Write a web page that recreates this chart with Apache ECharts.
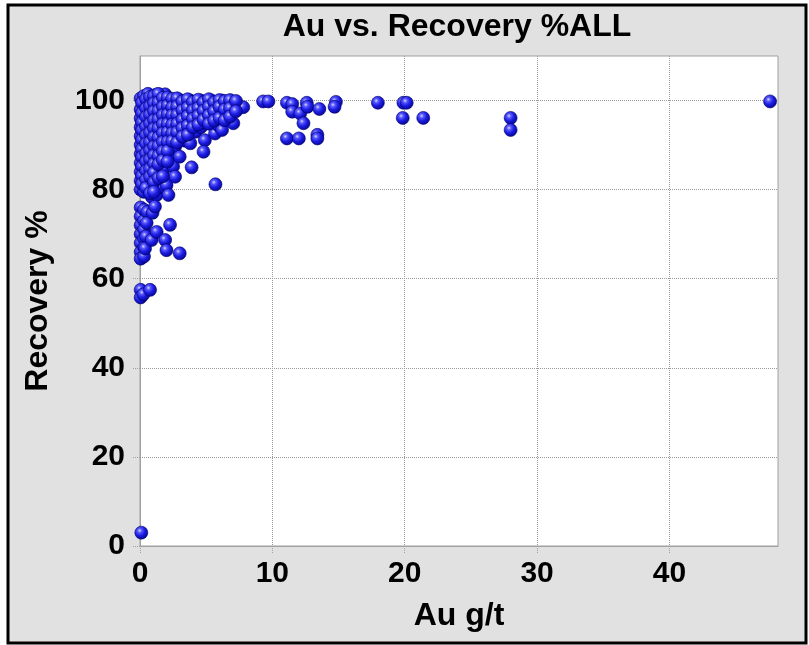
<!DOCTYPE html>
<html>
<head>
<meta charset="utf-8">
<script src="https://cdn.jsdelivr.net/npm/echarts@6/dist/echarts.min.js"></script>
<style>
html,body{margin:0;padding:0;background:#fff;}
#chart{width:809px;height:645px;}
</style>
</head>
<body>
<div id="chart"></div>
<script>
// ---- data: [Au g/t, Recovery %] ----
const lowGradeColumn = [
  [0.05,100.5],[0.05,98],[0.05,96],[0.05,94],[0.05,92],[0.05,90],[0.05,88],[0.05,86],[0.05,84],[0.05,82],[0.05,80],
  [0.05,76],[0.05,74],[0.05,72],[0.05,70],[0.05,68],[0.05,66],[0.05,64.5],[0.05,57.5],[0.05,55.8],[0.1,3],
  [0.3,101],[0.3,99],[0.3,97],[0.3,95],[0.3,93],[0.3,91],[0.3,89],[0.3,87],[0.3,85],[0.3,83],[0.3,81],[0.3,79.5],
  [0.3,75.5],[0.3,73],[0.3,71],[0.3,69],[0.3,67],[0.3,65],[0.25,56.5],
  [0.6,101.5],[0.6,99.5],[0.6,97.5],[0.6,95.5],[0.6,93.5],[0.6,91.5],[0.6,89.5],[0.6,87.5],[0.6,85.5],[0.6,83.5],
  [0.6,81.5],[0.55,75],[0.5,72.5],[0.45,69.5],[0.38,66.8],[0.76,57.5]
];
const mainCluster = [
  [0.9,100.2],[0.92,98.1],[0.88,96.3],[0.9,94.2],[0.93,92.1],[0.9,90.4],[0.87,88.2],[0.9,86.1],[0.92,84.3],[0.9,82.4],[0.88,80.2],[0.9,78.3],[0.95,74.8],[0.88,68.7],
  [1.2,101.3],[1.22,99.2],[1.18,97.1],[1.2,95.3],[1.24,93.2],[1.2,91.1],[1.17,89.3],[1.2,87.2],[1.23,85.1],[1.2,83.2],[1.18,81.1],[1.26,78.8],[1.13,76.2],[1.26,70.5],
  [1.55,100.1],[1.52,98.2],[1.57,96.1],[1.55,94.3],[1.5,92.2],[1.56,90.1],[1.53,88.3],[1.58,86.2],[1.52,83.9],[1.6,80.6],
  [1.9,101.4],[1.88,99.1],[1.92,97.2],[1.9,95.1],[1.86,93.1],[1.93,91.2],[1.9,89.1],[1.87,86.9],[1.76,84.4],[2.0,81.0],[1.9,68.7],[2.0,66.4],
  [2.25,100.0],[2.28,98.1],[2.22,96.2],[2.26,94.1],[2.3,92.3],[2.24,90.2],[2.4,88.1],[2.5,85.2],[2.15,78.8],[2.27,72.1],
  [2.6,99.6],[2.63,97.4],[2.58,95.5],[2.62,93.4],[2.6,91.6],[2.65,89.6],[2.65,82.9],
  [3.0,100.1],[3.02,98.0],[2.98,96.1],[3.03,94.0],[3.0,92.1],[3.0,87.4],[3.0,65.7],
  [3.4,99.2],[3.38,97.1],[3.42,95.0],[3.4,93.1],[3.36,91.0],
  [3.8,100.0],[3.82,98.1],[3.78,96.0],[3.8,93.9],[3.8,90.4],[3.9,85.0],
  [4.2,99.1],[4.22,97.0],[4.18,95.2],[4.2,93.0],
  [4.6,100.0],[4.62,98.0],[4.58,96.1],[4.6,94.0],[4.9,91.1],[4.8,88.5],
  [5.0,99.2],[5.02,97.1],[5.0,95.0],
  [5.4,100.0],[5.42,98.1],[5.38,96.0],[5.67,92.6],[5.7,81.2],
  [5.8,99.1],[5.82,97.0],[5.9,94.5],
  [6.2,100.0],[6.22,98.1],[6.2,93.4],
  [6.6,99.2],[6.62,97.2],
  [7.05,99.7],[7.05,94.9],
  [7.4,98.8],[7.8,98.5]
];
const clusterFill = [
  [0.15,99.5],[0.15,97.2],[0.15,95.1],[0.15,93.3],[0.15,91.2],[0.15,89.1],[0.15,87.3],[0.15,85.2],[0.15,83.1],[0.15,81.3],
  [0.45,100.3],[0.45,98.2],[0.45,96.3],[0.45,94.1],[0.45,92.2],[0.45,90.3],[0.45,88.1],[0.45,86.3],[0.45,84.2],[0.45,82.2],[0.45,80.4],
  [0.75,100.8],[0.75,98.7],[0.75,96.8],[0.75,94.8],[0.75,92.8],[0.75,90.7],[0.75,88.8],[0.75,86.8],[0.75,84.7],[0.75,82.9],[0.75,79.2],
  [1.05,101.0],[1.05,99.4],[1.05,97.6],[1.05,95.6],[1.05,93.7],[1.05,91.8],[1.05,89.7],[1.05,87.7],[1.05,85.8],[1.05,83.8],[1.05,81.7],[1.05,79.5],
  [1.38,101.5],[1.38,99.6],[1.38,97.7],[1.38,95.8],[1.38,93.8],[1.38,91.7],[1.38,89.8],[1.38,87.6],[1.38,85.7],[1.38,82.6],
  [1.72,100.6],[1.72,98.6],[1.72,96.7],[1.72,94.7],[1.72,92.7],[1.72,90.7],[1.72,88.6],[1.72,86.6],[1.72,83.0],
  [2.08,100.7],[2.08,98.9],[2.08,96.9],[2.08,94.8],[2.08,92.9],[2.08,90.8],[2.08,88.7],[2.08,86.3],
  [2.43,100.4],[2.43,98.5],[2.43,96.7],[2.43,94.6],[2.43,92.7],[2.43,90.9],
  [2.8,100.5],[2.8,98.7],[2.8,96.8],[2.8,94.8],[2.8,92.9],[2.8,90.6],
  [3.2,99.8],[3.2,97.8],[3.2,95.7],[3.2,93.8],[3.2,91.9],
  [3.6,100.3],[3.6,98.4],[3.6,96.5],[3.6,94.4],[3.6,92.3],
  [4.0,99.7],[4.0,97.8],[4.0,95.9],[4.0,94.0],
  [4.4,100.2],[4.4,98.3],[4.4,96.6],[4.4,94.6],
  [4.8,99.6],[4.8,97.7],[4.8,95.7],
  [5.2,100.3],[5.2,98.6],[5.2,96.7],[5.2,94.8],
  [5.6,99.6],[5.6,97.6],[5.6,95.5],
  [6.0,100.1],[6.0,98.6],[6.0,96.1],
  [6.4,99.9],[6.4,98.0],[6.4,95.6],
  [6.8,100.1],[6.8,98.3],[6.8,96.4],
  [7.25,99.9],[7.25,97.6]
];
const highGradeOutliers = [
  [9.3,99.8],[9.7,99.8],[11.1,99.5],[11.5,99.2],[11.5,97.5],[12.1,97.1],[12.6,99.5],[12.65,98.6],
  [13.55,98.1],[14.8,99.7],[14.7,98.6],[12.35,94.9],[11.1,91.5],[12.0,91.5],[13.4,92.3],[13.4,91.5],
  [17.97,99.5],[19.9,99.5],[20.15,99.5],[19.85,96.1],[21.4,96.1],[28.0,96.1],[28.0,93.4],[47.6,99.8]
];
const xTicks = [0, 10, 20, 30, 40];
const yTicks = [0, 20, 40, 60, 80, 100];

const allPoints = lowGradeColumn.concat(mainCluster, clusterFill, highGradeOutliers);
const FONT = '"Liberation Sans", Arial, sans-serif';

const sphere = {
  type: 'radial', x: 0.38, y: 0.35, r: 0.68,
  colorStops: [
    { offset: 0, color: '#d8d8ff' },
    { offset: 0.22, color: '#5a5aff' },
    { offset: 0.55, color: '#1c1ce0' },
    { offset: 0.9, color: '#0a0aa8' },
    { offset: 1, color: '#000070' }
  ]
};

const chart = echarts.init(document.getElementById('chart'), null, { renderer: 'canvas' });
chart.setOption({
  backgroundColor: '#ffffff',
  animation: false,
  graphic: [{
    type: 'rect', z: -100, silent: true,
    shape: { x: 8, y: 5, width: 798, height: 638 },
    style: { fill: '#e1e1e1', stroke: '#000', lineWidth: 3 }
  }],
  title: {
    text: 'Au vs. Recovery %ALL',
    left: 457, top: 11, textAlign: 'center', padding: 0,
    textStyle: { fontFamily: FONT, fontSize: 32, fontWeight: 'bold', color: '#000' }
  },
  grid: {
    left: 140, top: 56, right: 31, bottom: 99,
    show: true, backgroundColor: '#ffffff', borderColor: '#a0a0a0', borderWidth: 1
  },
  xAxis: {
    type: 'value', min: 0, max: 48.2, interval: 10,
    name: 'Au g/t', nameLocation: 'middle', nameGap: 54,
    nameTextStyle: { fontFamily: FONT, fontSize: 32, fontWeight: 'bold', color: '#000' },
    axisLine: { show: true, lineStyle: { color: '#a0a0a0', width: 1 } },
    axisTick: { show: true, length: 7, customValues: xTicks, lineStyle: { color: '#a0a0a0', type: 'dotted' } },
    axisLabel: {
      margin: 13, fontFamily: FONT, fontSize: 30, fontWeight: 'bold', color: '#000',
      customValues: xTicks,
      formatter: v => (xTicks.indexOf(v) >= 0 ? String(v) : '')
    },
    splitLine: { show: true, lineStyle: { color: '#9a9a9a', type: 'dotted', width: 1 } }
  },
  yAxis: {
    type: 'value', min: 0, max: 110, interval: 20,
    name: 'Recovery %', nameLocation: 'middle', nameRotate: 90, nameGap: 86,
    nameTextStyle: { fontFamily: FONT, fontSize: 32, fontWeight: 'bold', color: '#000' },
    axisLine: { show: true, lineStyle: { color: '#a0a0a0', width: 1 } },
    axisTick: { show: true, length: 7, customValues: yTicks, lineStyle: { color: '#a0a0a0', type: 'dotted' } },
    axisLabel: {
      margin: 15, fontFamily: FONT, fontSize: 30, fontWeight: 'bold', color: '#000',
      customValues: yTicks,
      formatter: v => (yTicks.indexOf(v) >= 0 ? String(v) : '')
    },
    splitLine: { show: true, lineStyle: { color: '#9a9a9a', type: 'dotted', width: 1 } }
  },
  series: [{
    type: 'scatter',
    data: allPoints,
    symbol: 'circle',
    symbolSize: 13,
    itemStyle: { color: sphere, borderColor: '#00006a', borderWidth: 0.6, opacity: 1 }
  }]
});
</script>
</body>
</html>
